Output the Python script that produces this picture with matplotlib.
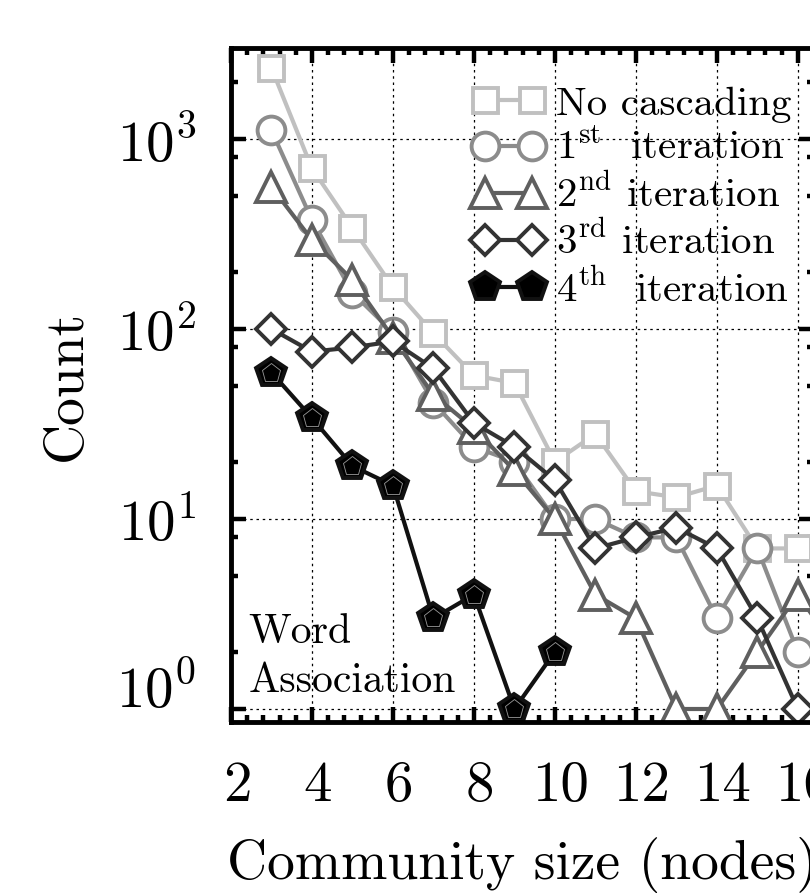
import matplotlib
matplotlib.use("Agg")
import matplotlib.pyplot as plt
from matplotlib.ticker import LogLocator, MultipleLocator, FixedLocator, NullFormatter, LogFormatterSciNotation
from matplotlib.transforms import ScaledTranslation
import numpy as np

plt.rcParams['font.family'] = ['cmr10', 'DejaVu Serif']
plt.rcParams['mathtext.fontset'] = 'cm'
plt.rcParams['axes.formatter.use_mathtext'] = True

# Data
sizes = [3, 4, 5, 6, 7, 8, 9, 10, 11, 12, 13, 14, 15, 16]
no_cascading = [2360, 700, 340, 166, 95, 57, 52, 20, 28, 14, 13, 15, 7, 7]
iter1 = [1110, 375, 155, 96, 41, 24, 20, 10, 10, 8, 8, 3, 7, 2]
iter2_sizes = [3, 4, 5, 6, 7, 8, 9, 10, 11, 12, 13, 14, 15, 16, 17]
iter2 = [560, 294, 181, 90, 45, 30, 18, 10, 4, 3, 1, 1, 2, 4, 2]
iter3 = [100, 76, 80, 86, 62, 32, 24, 16, 7, 8, 9, 7, 3, 1]
iter4_sizes = [3, 4, 5, 6, 7, 8, 9, 10]
iter4 = [59, 34, 19, 15, 3, 4, 1, 2]

labels = [r'No cascading', r'$1^{\mathrm{st}}$  iteration', r'$2^{\mathrm{nd}}$ iteration',
          r'$3^{\mathrm{rd}}$ iteration', r'$4^{\mathrm{th}}$  iteration']
xticks = [2, 4, 6, 8, 10, 12, 14, 16]
yticks = [1, 10, 100, 1000]

fig = plt.figure(figsize=(8.10, 8.93), dpi=100)
ax = fig.add_axes([231/810, 1-722/893, (814-231)/810, (722-48)/893])

lw = 3.0
mew = 2.8
ax.plot(sizes, no_cascading, color='#c0c0c0', marker='s', ms=18, mfc='white', mec='#c0c0c0',
        mew=mew, lw=lw, label=labels[0])
ax.plot(sizes, iter1, color='#8c8c8c', marker='o', ms=20, mfc='white', mec='#8c8c8c',
        mew=mew, lw=lw, label=labels[1])
ax.plot(iter2_sizes, iter2, color='#5f5f5f', marker='^', ms=21, mfc='white', mec='#5f5f5f',
        mew=mew, lw=lw, label=labels[2])
ax.plot(sizes, iter3, color='#333333', marker='D', ms=15, mfc='white', mec='#333333',
        mew=mew, lw=lw, label=labels[3])
ax.plot(iter4_sizes, iter4, color='#111111', marker='p', ms=22, mfc='black', mec='#111111',
        mew=mew, lw=lw, label=labels[4])
ax.plot(iter4_sizes, iter4, linestyle='none', marker='p', ms=14, mfc='none', mec='#9a9a9a',
        mew=0.6)

ax.set_yscale('log')
ax.set_xlim(2, 16.4)
ax.set_ylim(10**(-13/190), 10**(661/190))

ax.xaxis.set_major_locator(FixedLocator(xticks))
ax.set_xticklabels([str(t) for t in xticks])
ax.xaxis.set_minor_locator(MultipleLocator(0.4))
ax.yaxis.set_major_locator(FixedLocator(yticks))
ax.yaxis.set_major_formatter(LogFormatterSciNotation())
ax.yaxis.set_minor_locator(LogLocator(base=10, subs=[2, 5, 8], numticks=10))
ax.yaxis.set_minor_formatter(NullFormatter())

ax.tick_params(which='both', direction='in', top=True, right=True, width=3.2)
ax.tick_params(which='major', length=11, labelsize=41, pad=25)
ax.tick_params(which='minor', length=5)
ax.tick_params(axis='x', which='major', pad=28)
for s in ax.spines.values():
    s.set_linewidth(3.5)

ax.grid(True, which='major', linestyle=(0, (2, 3)), color='black', linewidth=0.9)

ax.set_xlabel('Community size (nodes)', fontsize=40, labelpad=18)
ax.set_ylabel('Count', fontsize=40, labelpad=18)

# shift x tick labels slightly right, and the 10^0 label upward, as in the reference
for t in ax.xaxis.get_major_ticks():
    t.label1.set_transform(t.label1.get_transform() + ScaledTranslation(0.06, 0, fig.dpi_scale_trans))
ytks = ax.yaxis.get_major_ticks()
ytks[0].label1.set_transform(ytks[0].label1.get_transform() + ScaledTranslation(0, 0.24, fig.dpi_scale_trans))

ax.text(0.03, 0.032, 'Word\nAssociation', transform=ax.transAxes, fontsize=30,
        ha='left', va='bottom', linespacing=1.4)

leg = ax.legend(loc='upper right', bbox_to_anchor=(1.004, 0.98), frameon=False, fontsize=29.5,
                numpoints=2, handlelength=1.75, handletextpad=0.3, labelspacing=0.17,
                borderaxespad=0.2)

fig.savefig('out.png', dpi=100)
